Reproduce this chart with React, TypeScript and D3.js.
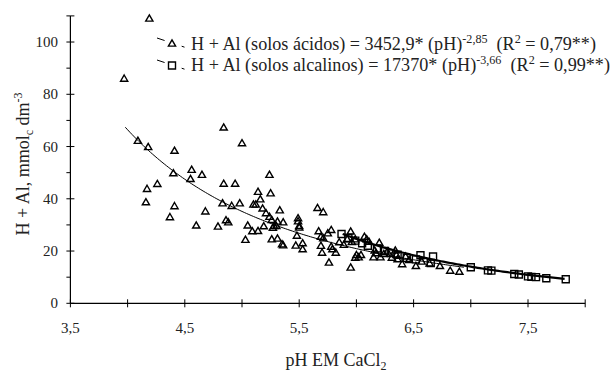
import React from "react";
import * as d3 from "d3";

// solos ácidos (triângulos): [pH, H+Al]
const acidPts: [number, number][] = [
  [4.19, 109], [3.97, 86], [4.09, 62.2], [4.18, 59.8], [4.41, 58.4], [4.4, 49.8],
  [4.56, 51.1], [4.55, 47.6], [4.65, 49.2], [4.17, 43.8], [4.26, 45.7], [4.16, 38.7],
  [4.41, 37.2], [4.37, 33.0], [4.68, 35.2], [4.6, 29.8], [4.84, 67.3], [5.0, 61.3],
  [4.84, 45.8], [4.94, 45.8], [4.83, 38.3], [4.91, 37.3], [4.98, 38.3], [4.79, 29.4],
  [4.86, 31.8], [4.88, 31.0], [5.05, 29.8], [5.03, 24.3], [5.09, 27.6], [5.1, 37.8],
  [5.12, 37.8], [5.14, 42.7], [5.16, 39.8], [5.18, 36.3], [5.14, 27.7], [5.24, 49.2],
  [5.25, 42.1], [5.21, 34.5], [5.24, 33.1], [5.26, 31.9], [5.19, 29.5], [5.28, 29.6],
  [5.27, 28.9], [5.3, 29.6], [5.26, 24.5], [5.31, 24.8], [5.33, 35.6], [5.31, 31.3],
  [5.36, 31.0], [5.35, 22.6], [5.36, 22.2], [5.49, 32.6], [5.49, 31.4], [5.5, 29.6],
  [5.5, 29.0], [5.48, 25.9], [5.47, 22.1], [5.53, 23.0], [5.53, 20.7], [5.66, 36.5],
  [5.71, 34.9], [5.67, 27.6], [5.69, 25.5], [5.71, 24.9], [5.69, 22.0], [5.7, 19.4],
  [5.75, 26.8], [5.78, 28.1], [5.76, 15.6], [5.78, 21.7], [5.79, 20.7], [5.82, 19.4],
  [5.85, 23.4], [5.89, 22.4], [5.92, 24.5], [5.95, 27.5], [5.96, 23.5], [5.95, 13.7],
  [5.99, 24.5], [5.99, 17.5], [6.0, 18.5], [6.02, 17.6], [6.04, 18.5], [6.07, 25.5],
  [6.09, 24.5], [6.11, 23.6], [6.16, 20.2], [6.17, 19.2], [6.15, 17.6], [6.2, 23.2],
  [6.21, 17.6], [6.24, 18.9], [6.27, 19.8], [6.31, 17.5], [6.34, 20.2], [6.35, 18.5],
  [6.36, 16.9], [6.4, 15.0], [6.43, 17.9], [6.46, 16.6], [6.52, 14.3], [6.57, 16.0],
  [6.64, 15.3], [6.73, 14.3], [6.82, 12.5], [6.9, 12.1],
];

// solos alcalinos (quadrados): [pH, H+Al]
const alkPts: [number, number][] = [
  [5.87, 26.5], [5.93, 25.0], [5.99, 24.0], [6.05, 23.0], [6.1, 22.0], [6.18, 21.0],
  [6.25, 20.0], [6.3, 19.2], [6.36, 18.6], [6.44, 17.4], [6.52, 16.8], [6.56, 18.4],
  [6.65, 15.4], [6.67, 17.9], [7.0, 13.8], [7.15, 12.6], [7.18, 12.5], [7.38, 11.2],
  [7.42, 11.0], [7.5, 10.3], [7.53, 10.1], [7.57, 10.0], [7.66, 9.6], [7.83, 9.2],
];

const xTicks = [3.5, 4.5, 5.5, 6.5, 7.5];
const xMinor = [4, 5, 6, 7, 8];
const yTicks = [0, 20, 40, 60, 80, 100];
const yMinor = [10, 30, 50, 70, 90];

const acidFit = (p: number) => 3452.9 * Math.pow(p, -2.85);
const alkFit = (p: number) => 17370 * Math.pow(p, -3.66);

const font = "'Liberation Serif', 'Times New Roman', serif";

const App = () => {
  const x = d3.scaleLinear().domain([3.5, 8]).range([70.4, 585.2]);
  const y = d3.scaleLinear().domain([0, 110]).range([303.3, 15.9]);

  const acidLine = d3
    .line<number>()
    .x((p) => x(p))
    .y((p) => y(acidFit(p)))(d3.range(3.98, 6.95, 0.02)) as string;
  const alkLine = d3
    .line<number>()
    .x((p) => x(p))
    .y((p) => y(alkFit(p)))(d3.range(5.88, 7.84, 0.02)) as string;

  const tri = "M0,-3.6L3.6,2.6L-3.6,2.6Z";
  const sq = "M-3.5,-3.5H3.5V3.5H-3.5Z";

  return (
    <svg
      width={613}
      height={372}
      style={{ position: "absolute", left: 0, top: 0, background: "#fff" }}
      fontFamily={font}
    >
      {/* axes */}
      <line x1={x(3.5)} x2={x(8)} y1={y(0)} y2={y(0)} stroke="#000" strokeWidth={1.2} />
      <line x1={x(3.5)} x2={x(3.5)} y1={y(0)} y2={y(110)} stroke="#000" strokeWidth={1.2} />
      {[...xTicks, ...xMinor].map((t) => (
        <line key={"xt" + t} x1={x(t)} x2={x(t)} y1={y(0) - 4} y2={y(0) + 4} stroke="#000" strokeWidth={1} />
      ))}
      {[...yTicks, 110].map((t) => (
        <line key={"yt" + t} x1={x(3.5) - 4} x2={x(3.5) + 4} y1={y(t)} y2={y(t)} stroke="#000" strokeWidth={1} />
      ))}
      {yMinor.map((t) => (
        <line key={"ym" + t} x1={x(3.5) - 4} x2={x(3.5)} y1={y(t)} y2={y(t)} stroke="#000" strokeWidth={1} />
      ))}
      {xTicks.map((t) => (
        <text key={"xl" + t} x={x(t)} y={333} textAnchor="middle" fontSize={15} fill="#222">
          {String(t).replace(".", ",")}
        </text>
      ))}
      {yTicks.map((t) => (
        <text key={"yl" + t} x={58} y={y(t) + 5} textAnchor="end" fontSize={15} fill="#222">
          {t}
        </text>
      ))}

      {/* axis titles */}
      <text x={336} y={366} textAnchor="middle" fontSize={18} fill="#222">
        pH EM CaCl<tspan fontSize={12} dy={4}>2</tspan>
      </text>
      <text transform="translate(29,164) rotate(-90)" textAnchor="middle" fontSize={18} fill="#222">
        H + Al, mmol<tspan fontSize={12} dy={4}>c</tspan>
        <tspan dy={-4}> dm</tspan>
        <tspan fontSize={12} dy={-7}>-3</tspan>
      </text>

      {/* fitted curves */}
      <path d={acidLine} fill="none" stroke="#000" strokeWidth={1} />
      <path d={alkLine} fill="none" stroke="#000" strokeWidth={2.2} />

      {/* points */}
      {acidPts.map((d, i) => (
        <path key={"a" + i} d={tri} transform={`translate(${x(d[0])},${y(d[1])})`} fill="none" stroke="#000" strokeWidth={1.4} />
      ))}
      {alkPts.map((d, i) => (
        <path key={"k" + i} d={sq} transform={`translate(${x(d[0])},${y(d[1])})`} fill="none" stroke="#000" strokeWidth={1.4} />
      ))}

      {/* legend */}
      <line x1={157} y1={38} x2={187} y2={48} stroke="#000" strokeWidth={1} strokeDasharray="8 18 3 10" />
      <path d={tri} transform="translate(172,43.5)" fill="#fff" stroke="#000" strokeWidth={1.4} />
      <line x1={157} y1={60} x2={187} y2={70} stroke="#000" strokeWidth={1} strokeDasharray="8 18 3 10" />
      <path d={sq} transform="translate(172,65.5)" fill="#fff" stroke="#000" strokeWidth={1.4} />

      <text x={191} y={50} fontSize={18} fill="#222" style={{ whiteSpace: "pre" }} textLength={405} lengthAdjust="spacingAndGlyphs">
        {"H + Al (solos ácidos) = 3452,9* (pH)"}
        <tspan fontSize={12} dy={-7}>-2,85</tspan>
        <tspan dy={7}>{"  (R"}</tspan>
        <tspan fontSize={12} dy={-7}>2</tspan>
        <tspan dy={7}>{" = 0,79**)"}</tspan>
      </text>
      <text x={191} y={71} fontSize={18} fill="#222" style={{ whiteSpace: "pre" }} textLength={419} lengthAdjust="spacingAndGlyphs">
        {"H + Al (solos alcalinos) = 17370* (pH)"}
        <tspan fontSize={12} dy={-7}>-3,66</tspan>
        <tspan dy={7}>{"  (R"}</tspan>
        <tspan fontSize={12} dy={-7}>2</tspan>
        <tspan dy={7}>{" = 0,99**)"}</tspan>
      </text>
    </svg>
  );
};

export default App;
